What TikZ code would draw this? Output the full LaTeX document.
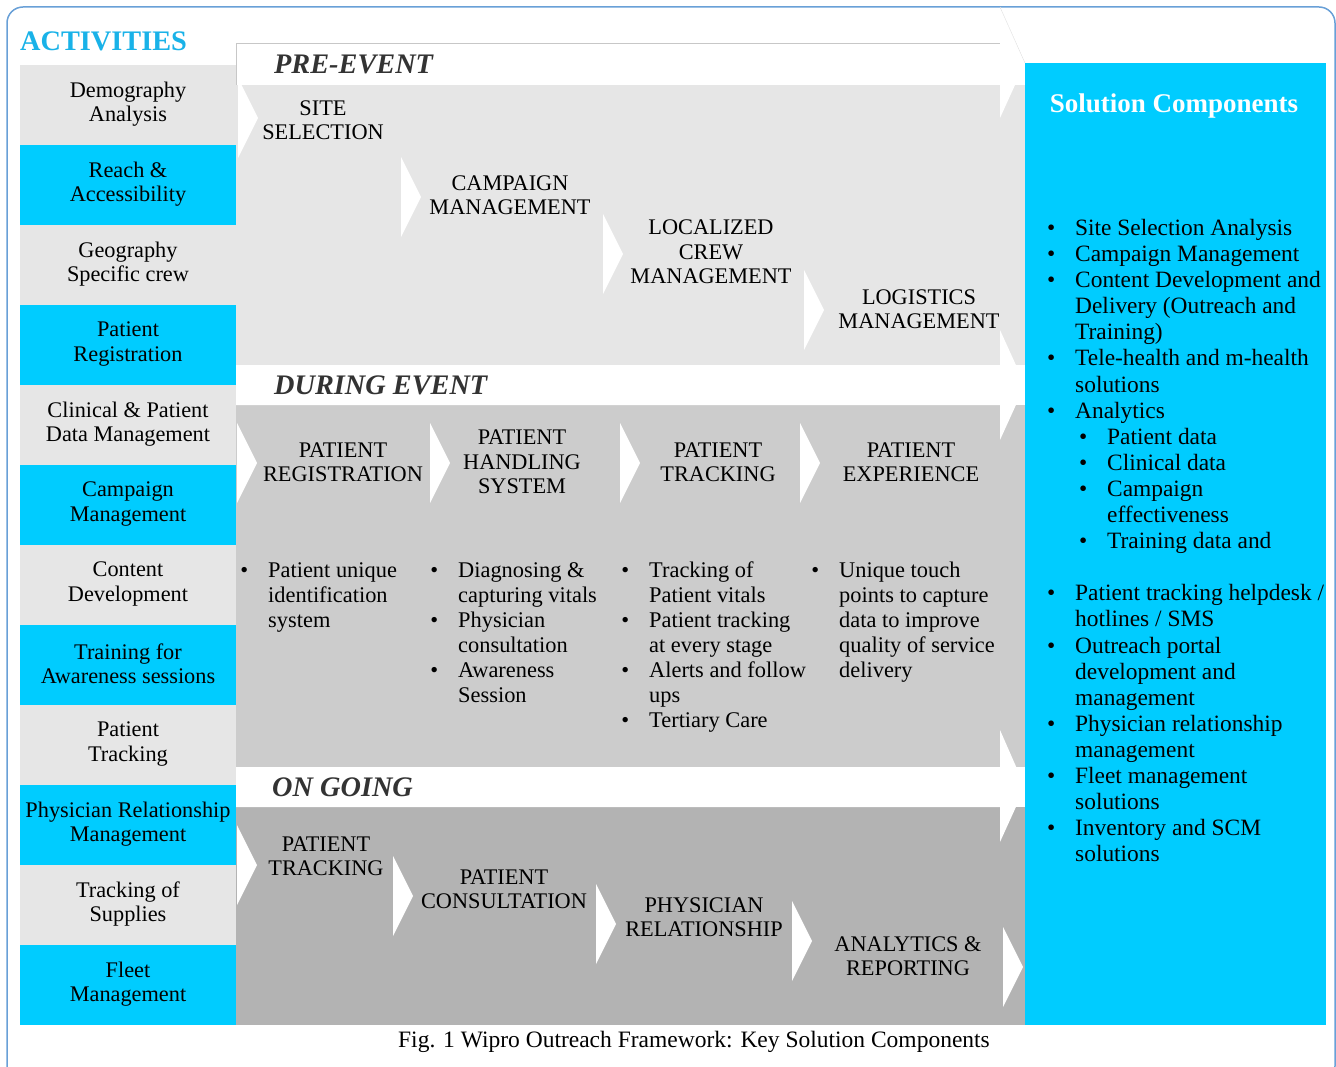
\documentclass[tikz,border=0pt]{standalone}
\usepackage{fontspec}
\setmainfont{Liberation Serif}
\definecolor{actcyan}{RGB}{0,204,255}
\definecolor{pregray}{RGB}{230,230,230}
\definecolor{durgray}{RGB}{204,204,204}
\definecolor{onggray}{RGB}{179,179,179}
\definecolor{titleblue}{RGB}{25,178,232}
\definecolor{frameblue}{RGB}{105,160,215}
\definecolor{headgray}{RGB}{51,51,51}
\newcommand{\lbul}{\llap{\textbullet\hspace{20pt}}}
\begin{document}
\begin{tikzpicture}[x=1pt,y=-1pt,
  txt/.style={font=\fontsize{22.3}{24.5}\selectfont,align=center,inner sep=0pt},
  stage/.style={font=\fontsize{28.3}{30}\selectfont\bfseries\itshape,text=headgray,anchor=west,inner sep=0pt},
  lst/.style={font=\fontsize{22.4}{25}\selectfont,align=left,anchor=north west,inner sep=0pt}]
\useasboundingbox (0,0) rectangle (1336,1067);
%frame
\draw[frameblue,line width=1.5pt,rounded corners=16pt](7,7) rectangle (1335,1082);
%activities column
\node[font=\fontsize{28.3}{30}\selectfont\bfseries,text=titleblue,anchor=west,inner sep=0pt] (act) at (20,41) {ACTIVITIES};
\foreach \c/\t [count=\i from 0] in {pregray/{Demography\\Analysis},actcyan/{Reach \&\\Accessibility},
  pregray/{Geography\\Specific crew},actcyan/{Patient\\Registration},pregray/{Clinical \& Patient\\Data Management},
  actcyan/{Campaign\\Management},pregray/{Content\\Development},actcyan/{Training for\\Awareness sessions},
  pregray/{Patient\\Tracking},actcyan/{Physician Relationship\\Management},pregray/{Tracking of\\Supplies},
  actcyan/{Fleet\\Management}}{
  \fill[\c](20,65+80*\i) rectangle (236,145+80*\i);
  \node[txt] (act\i) at (128,104+80*\i) {\t};
}
%bands
\fill[pregray](236,85) rectangle (1025,365);
\fill[durgray](236,405) rectangle (1025,767);
\fill[onggray](236,807) rectangle (1025,1025);
\draw[black!22](236,85)--(236,43)--(1000,43)--(1000,7);
\fill[white](1000,7)--(1025,63)--(1000,118)--cycle;
\draw[black!12](1000,7)--(1025,63);
\fill[white](236,365)--(1000,365)--(1000,330)--(1025,385)--(1000,440)--(1000,405)--(236,405)--cycle;
\fill[white](236,767)--(1000,767)--(1000,730)--(1025,787)--(1000,842)--(1000,807)--(236,807)--cycle;
\node[stage] (pre) at (274,64) {PRE-EVENT};
\node[stage] (dur) at (274,385) {DURING EVENT};
\node[stage] (ong) at (272,787) {ON GOING};
%chevrons
\foreach \x/\y in {238/118,401/197,603/254,804/310,237/463,430/463,620/463,800/463,
  237/865,393/896,596/924,792/941,1003/967}{
  \fill[white](\x,\y-40)--(\x+20,\y)--(\x,\y+40)--cycle;
}
%steps
\foreach \n/\x/\y/\t in {s1/323/120/{SITE\\SELECTION},s2/510/195/{CAMPAIGN\\MANAGEMENT},
  s3/711/252/{LOCALIZED\\CREW\\MANAGEMENT},s4/919/309/{LOGISTICS\\MANAGEMENT},
  d1/343/462/{PATIENT\\REGISTRATION},d2/522/462/{PATIENT\\HANDLING\\SYSTEM},
  d3/718/462/{PATIENT\\TRACKING},d4/911/462/{PATIENT\\EXPERIENCE},
  o1/326/856/{PATIENT\\TRACKING},o2/504/889/{PATIENT\\CONSULTATION},
  o3/704/917/{PHYSICIAN\\RELATIONSHIP},o4/908/956/{ANALYTICS \&\\REPORTING}}{
  \node[txt] (\n) at (\x,\y) {\t};
}
%during event details
\node[lst] (l1) at (268,562) {\lbul Patient unique\\identification\\system};
\node[lst] (l2) at (458,562) {\lbul Diagnosing \&\\capturing vitals\\\lbul Physician\\consultation\\\lbul Awareness\\Session};
\node[lst] (l3) at (649,562) {\lbul Tracking of\\Patient vitals\\\lbul Patient tracking\\at every stage\\\lbul Alerts and follow\\ups\\\lbul Tertiary Care};
\node[lst] (l4) at (839,562) {\lbul Unique touch\\points to capture\\data to improve\\quality of service\\delivery};
%solution components
\fill[actcyan](1025,63) rectangle (1326,1025);
\node[font=\fontsize{27}{30}\selectfont\bfseries,text=white,inner sep=0pt] (sol) at (1174,106) {Solution Components};
\node[lst,font=\fontsize{23.4}{26.1}\selectfont] (sl) at (1075,219) {\lbul Site Selection Analysis\\
\lbul Campaign Management\\
\lbul Content Development and\\Delivery (Outreach and\\Training)\\
\lbul Tele-health and m-health\\solutions\\
\lbul Analytics\\
\hspace*{32pt}\lbul Patient data\\
\hspace*{32pt}\lbul Clinical data\\
\hspace*{32pt}\lbul Campaign\\
\hspace*{32pt}effectiveness\\
\hspace*{32pt}\lbul Training data and\\[26.1pt]
\lbul Patient tracking helpdesk /\\hotlines / SMS\\
\lbul Outreach portal\\development and\\management\\
\lbul Physician relationship\\management\\
\lbul Fleet management\\solutions\\
\lbul Inventory and SCM\\solutions};
%caption
\node[font=\fontsize{23.5}{25}\selectfont,inner sep=0pt] (cap) at (694,1042) {Fig. 1 Wipro Outreach Framework: Key Solution Components};
\end{tikzpicture}
\end{document}
